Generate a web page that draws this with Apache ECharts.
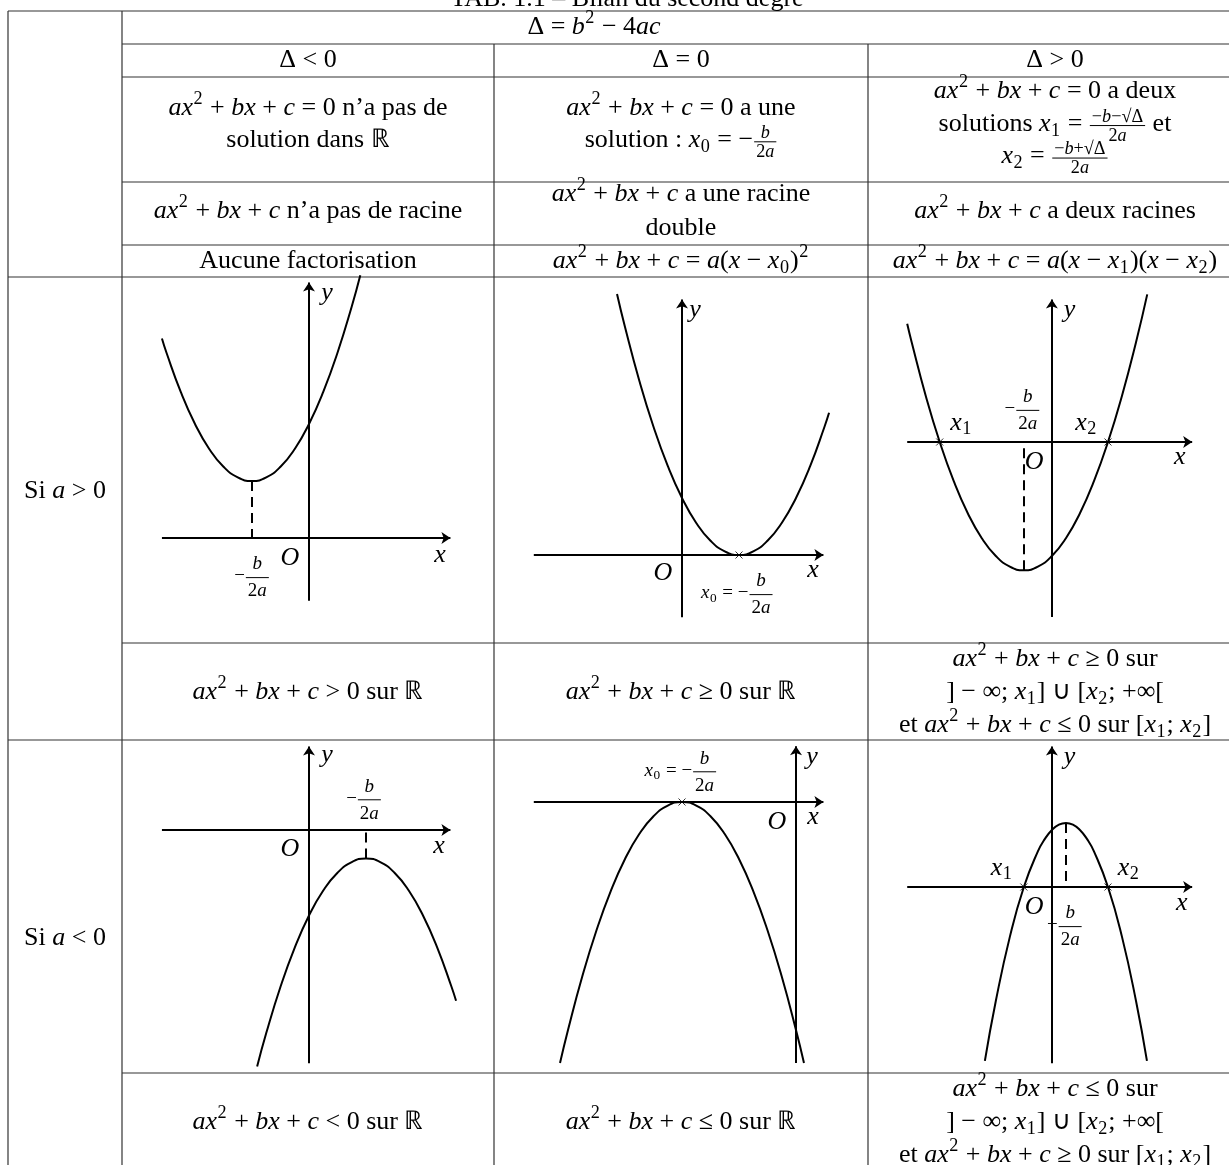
<!DOCTYPE html>
<html>
<head>
<meta charset="utf-8">
<script src="https://cdn.jsdelivr.net/npm/echarts@6.0.0/dist/echarts.min.js"></script>
<style>
html, body { margin: 0; padding: 0; background: #fff; }
#container { width: 1229px; height: 1165px; }
</style>
</head>
<body>
<div id="container"></div>
<script>
// police du tableau (Times-like)
var FONT = '"Liberation Serif", "Times New Roman", serif';
// px par unité dans les six petits repères
var U = 28.5;

// ---- les six paraboles : points (unités du repère)
// a > 0 : delta < 0, delta = 0, delta > 0
var curveA1 = [[-5.16, 7.0], [-5, 6.5], [-4.5, 5.125], [-4, 4], [-3.5, 3.125], [-3, 2.5], [-2.5, 2.125], [-2, 2], [-1.5, 2.125], [-1, 2.5], [-0.5, 3.125], [0, 4], [0.5, 5.125], [1, 6.5], [1.5, 8.125], [1.8, 9.22]];
var curveA2 = [[-2.28, 9.16], [-2, 8], [-1.5, 6.125], [-1, 4.5], [-0.5, 3.125], [0, 2], [0.5, 1.125], [1, 0.5], [1.5, 0.125], [2, 0], [2.5, 0.125], [3, 0.5], [3.5, 1.125], [4, 2], [4.5, 3.125], [5, 4.5], [5.16, 4.99]];
var curveA3 = [[-5.16, 4.15], [-5, 3.5], [-4.5, 1.625], [-4, 0], [-3.5, -1.375], [-3, -2.5], [-2.5, -3.375], [-2, -4], [-1.5, -4.375], [-1, -4.5], [-0.5, -4.375], [0, -4], [0.5, -3.375], [1, -2.5], [1.5, -1.375], [2, 0], [2.5, 1.625], [3, 3.5], [3.4, 5.18]];
// a < 0 : delta < 0, delta = 0, delta > 0
var curveB1 = [[-1.82, -8.3], [-1.5, -7.125], [-1, -5.5], [-0.5, -4.125], [0, -3], [0.5, -2.125], [1, -1.5], [1.5, -1.125], [2, -1], [2.5, -1.125], [3, -1.5], [3.5, -2.125], [4, -3], [4.5, -4.125], [5, -5.5], [5.16, -5.99]];
var curveB2 = [[-8.28, -9.16], [-8, -8], [-7.5, -6.125], [-7, -4.5], [-6.5, -3.125], [-6, -2], [-5.5, -1.125], [-5, -0.5], [-4.5, -0.125], [-4, 0], [-3.5, -0.125], [-3, -0.5], [-2.5, -1.125], [-2, -2], [-1.5, -3.125], [-1, -4.5], [-0.5, -6.125], [0, -8], [0.28, -9.16]];
var curveB3 = [[-2.39, -6.1], [-2, -4], [-1.5, -1.75], [-1, 0], [-0.5, 1.25], [-0.25, 1.6875], [0, 2], [0.25, 2.1875], [0.5, 2.25], [0.75, 2.1875], [1, 2], [1.25, 1.6875], [1.5, 1.25], [2, 0], [2.5, -1.75], [3, -4], [3.39, -6.1]];
var curves = [curveA1, curveA2, curveA3, curveB1, curveB2, curveB3];

// étendue des axes fléchés
var xAxisSpan = [[-5.16, 5.12], [-5.2, 5.12], [-5.16, 5.16], [-5.16, 5.12], [-9.2, 1.12], [-5.16, 5.16]];
var yAxisSpan = [[-2.2, 9.12], [-2.18, 9.12], [-6.14, 5.16], [-8.18, 3.09], [-9.16, 2.11], [-6.18, 5.09]];
// racines marquées d'une croix, sommet relié à l'axe en pointillé
var rootMarks = [[], [2], [-4, 2], [], [-4], [-1, 2]];
var vertexDash = [[-2, 2], null, [-1, -4.5], [2, -1], null, [0.5, 2.25]];

// ---- textes du tableau
var tableTitle = 'TAB. 1.1 – Bilan du second degré';
var headDelta = '$Δ = b^2 − 4ac$';
var deltaCases = ['$Δ < 0$', '$Δ = 0$', '$Δ > 0$'];
var solutionsText = [
    ['$ax^2 + bx + c = 0$ n’a pas de', 'solution dans ℝ'],
    ['$ax^2 + bx + c = 0$ a une', 'solution : $x_0 = −\\f{b}{2a}$'],
    ['$ax^2 + bx + c = 0$ a deux', 'solutions $x_1 = \\f{−b−√Δ}{2a}$ et', '$x_2 = \\f{−b+√Δ}{2a}$']
];
var rootsText = [
    ['$ax^2 + bx + c$ n’a pas de racine'],
    ['$ax^2 + bx + c$ a une racine', 'double'],
    ['$ax^2 + bx + c$ a deux racines']
];
var factorText = [
    ['Aucune factorisation'],
    ['$ax^2 + bx + c = a(x − x_0)^2$'],
    ['$ax^2 + bx + c = a(x − x_1)(x − x_2)$']
];
var signPosText = [
    ['$ax^2 + bx + c > 0$ sur ℝ'],
    ['$ax^2 + bx + c ≥ 0$ sur ℝ'],
    ['$ax^2 + bx + c ≥ 0$ sur', '$] − ∞; x_1] ∪ [x_2; +∞[$', 'et $ax^2 + bx + c ≤ 0$ sur $[x_1; x_2]$']
];
var signNegText = [
    ['$ax^2 + bx + c < 0$ sur ℝ'],
    ['$ax^2 + bx + c ≤ 0$ sur ℝ'],
    ['$ax^2 + bx + c ≤ 0$ sur', '$] − ∞; x_1] ∪ [x_2; +∞[$', 'et $ax^2 + bx + c ≥ 0$ sur $[x_1; x_2]$']
];
var caseNames = ['Si $a > 0$', 'Si $a < 0$'];

// ---- mise en page (px)
var cellBox = [[122, 277, 494, 643], [494, 277, 868, 643], [868, 277, 1229, 643],
               [122, 740, 494, 1073], [494, 740, 868, 1073], [868, 740, 1229, 1073]];
var originPx = [[309, 538], [682, 555], [1055, 442], [309, 830], [796, 802], [1055, 887]];
var colX = [65, 308, 681, 1055];
var hLines = [[11, 8, 1229], [44, 122, 1229], [77, 122, 1229], [182, 122, 1229], [245, 122, 1229],
              [277, 8, 1229], [643, 122, 1229], [740, 8, 1229], [1073, 122, 1229]];
var vLines = [[8, 11, 1165], [122, 11, 1165], [494, 44, 1165], [868, 44, 1165]];
// étiquettes des repères : [texte, x, y (unités), taille]
var graphLabels = [
    [['$y$', 0.63, 8.6], ['$x$', 4.6, -0.6], ['$O$', -0.67, -0.7], ['$−\\f{b}{2a}$', -2, -1.35, 's']],
    [['$y$', 0.46, 8.6], ['$x$', 4.6, -0.53], ['$O$', -0.67, -0.63], ['$x_0 = −\\f{b}{2a}$', 1.94, -1.35, 's']],
    [['$y$', 0.63, 4.63], ['$x$', 4.56, -0.53], ['$O$', -0.63, -0.7], ['$x_1$', -3.23, 0.67], ['$x_2$', 1.23, 0.67], ['$−\\f{b}{2a}$', -1.05, 1.15, 's']],
    [['$y$', 0.63, 2.63], ['$x$', 4.56, -0.56], ['$O$', -0.67, -0.67], ['$−\\f{b}{2a}$', 1.93, 1.1, 's']],
    [['$y$', 0.56, 1.58], ['$x$', 0.6, -0.53], ['$O$', -0.67, -0.7], ['$x_0 = −\\f{b}{2a}$', -4.04, 1.1, 's']],
    [['$y$', 0.63, 4.56], ['$x$', 4.63, -0.56], ['$O$', -0.63, -0.7], ['$x_1$', -1.79, 0.67], ['$x_2$', 2.74, 0.67], ['$−\\f{b}{2a}$', 0.46, -1.35, 's']]
];

var myChart = echarts.init(document.getElementById('container'));

// ---- petits repères : une grille par case, axes cachés
var grids = [], xAxes = [], yAxes = [], series = [];
cellBox.forEach(function (c, i) {
    var o = originPx[i], pad = 6;
    var l = c[0] - pad, t = c[1] - pad, r = c[2] + pad, b = c[3] + pad;
    grids.push({left: l, top: t, width: r - l, height: b - t});
    xAxes.push({gridIndex: i, type: 'value', show: false, min: (l - o[0]) / U, max: (r - o[0]) / U});
    yAxes.push({gridIndex: i, type: 'value', show: false, min: (o[1] - b) / U, max: (o[1] - t) / U});
    var tip = 4.5 / U;
    var ml = [
        [{coord: [xAxisSpan[i][0], 0]}, {coord: [xAxisSpan[i][1] - tip, 0]}],
        [{coord: [0, yAxisSpan[i][0]]}, {coord: [0, yAxisSpan[i][1] - tip]}]
    ];
    if (vertexDash[i]) {
        ml.push([{coord: vertexDash[i], symbol: 'none', lineStyle: {type: [10, 6]}},
                 {coord: [vertexDash[i][0], 0], symbol: 'none'}]);
    }
    series.push({
        type: 'line', xAxisIndex: i, yAxisIndex: i, data: curves[i],
        smooth: true, showSymbol: false, silent: true,
        lineStyle: {color: '#000', width: 2},
        markLine: {
            silent: true, symbol: ['none', 'arrow'], symbolSize: 9,
            label: {show: false},
            lineStyle: {color: '#000', width: 2, type: 'solid'},
            data: ml
        }
    });
    series.push({
        type: 'scatter', xAxisIndex: i, yAxisIndex: i, silent: true,
        symbol: 'path://M0,0L10,10M10,0L0,10', symbolSize: 7,
        itemStyle: {color: 'none', borderColor: '#000', borderWidth: 1},
        data: rootMarks[i].map(function (v) { return [v, 0]; })
    });
});

myChart.setOption({animation: false, grid: grids, xAxis: xAxes, yAxis: yAxes, series: series});

// ---- petit moteur de texte mathématique ($..$, ^, _, \f{num}{den})
var mctx = document.createElement('canvas').getContext('2d');
function fontOf(it, size) { return (it ? 'italic ' : '') + size.toFixed(1) + 'px ' + FONT; }
function textW(s, it, size) { mctx.font = fontOf(it, size); return mctx.measureText(s).width; }

function readGroup(s, i) {
    if (s.charAt(i) !== '{') return [s.charAt(i), i + 1];
    var depth = 0, j;
    for (j = i; j < s.length; j++) {
        if (s.charAt(j) === '{') depth++;
        else if (s.charAt(j) === '}') { depth--; if (depth === 0) break; }
    }
    return [s.slice(i + 1, j), j + 1];
}

function parseMath(s, size, math, fracScale) {
    var out = [], i = 0;
    while (i < s.length) {
        var c = s.charAt(i);
        if (c === '$') { math = !math; i++; continue; }
        if (math && (c === '^' || c === '_')) {
            var g = readGroup(s, i + 1); i = g[1];
            out.push({kind: 'script', up: c === '^', size: size, body: parseMath(g[0], size * 0.7, true, fracScale)});
            continue;
        }
        if (math && s.substr(i, 2) === '\\f') {
            var n = readGroup(s, i + 2), d = readGroup(s, n[1]); i = d[1];
            var fs = size * fracScale;
            out.push({kind: 'frac', size: size, sub: fs, inline: fracScale < 1,
                num: parseMath(n[0], fs, true, fracScale), den: parseMath(d[0], fs, true, fracScale)});
            continue;
        }
        var it = math && /[A-Za-z]/.test(c);
        var last = out[out.length - 1];
        if (last && last.kind === 'txt' && last.it === it) last.s += c;
        else out.push({kind: 'txt', s: c, it: it, size: size});
        i++;
    }
    return out;
}

function listW(list) { var w = 0; list.forEach(function (a) { w += atomW(a); }); return w; }
function atomW(a) {
    if (a.kind === 'txt') return textW(a.s, a.it, a.size);
    if (a.kind === 'script') return listW(a.body) + 1.5;
    return Math.max(listW(a.num), listW(a.den)) + 6;
}

function place(list, x, y, out) {
    list.forEach(function (a) {
        if (a.kind === 'txt') {
            out.push({type: 'text', silent: true, x: x, y: y,
                style: {text: a.s, font: fontOf(a.it, a.size), fill: '#000', align: 'left', verticalAlign: 'middle'}});
        } else if (a.kind === 'script') {
            place(a.body, x + 0.5, y + (a.up ? -0.34 : 0.26) * a.size, out);
        } else {
            var wn = listW(a.num), wd = listW(a.den), w = Math.max(wn, wd) + 4;
            var by = y + 0.06 * a.size;
            // fraction en ligne plus serrée que la fraction « display »
            var up = a.inline ? 0.45 * a.sub + 0.5 : 0.62 * a.sub + 1.5;
            var dn = a.inline ? 0.5 * a.sub + 1.5 : 0.62 * a.sub + 2;
            out.push({type: 'line', silent: true, shape: {x1: x + 1, y1: by, x2: x + 1 + w, y2: by},
                style: {stroke: '#000', lineWidth: 1}});
            place(a.num, x + 1 + (w - wn) / 2, by - up, out);
            place(a.den, x + 1 + (w - wd) / 2, by + dn, out);
        }
        x += atomW(a);
    });
}

function mathLine(str, cx, cy, size, fracScale, out) {
    var list = parseMath(str, size, false, fracScale);
    place(list, cx - listW(list) / 2, cy, out);
}

function block(lines, cx, cy, lh, out) {
    lines.forEach(function (str, k) {
        mathLine(str, cx, cy + (k - (lines.length - 1) / 2) * lh, 26, 0.7, out);
    });
}

var elements = [];

// traits du tableau
hLines.forEach(function (h) {
    elements.push({type: 'line', silent: true, shape: {x1: h[1], y1: h[0], x2: h[2], y2: h[0]},
        style: {stroke: '#333', lineWidth: 1.2}});
});
vLines.forEach(function (v) {
    elements.push({type: 'line', silent: true, shape: {x1: v[0], y1: v[1], x2: v[0], y2: v[2]},
        style: {stroke: '#333', lineWidth: 1.2}});
});

// textes
mathLine(tableTitle, 627, -1, 26, 0.7, elements);
mathLine(headDelta, 594, 27.5, 26, 0.7, elements);
for (var k = 0; k < 3; k++) {
    mathLine(deltaCases[k], colX[k + 1], 60.5, 26, 0.7, elements);
    block(solutionsText[k], colX[k + 1], 124, 32.5, elements);
    block(rootsText[k], colX[k + 1], 211, 33.5, elements);
    block(factorText[k], colX[k + 1], 261, 33, elements);
    block(signPosText[k], colX[k + 1], 692, 33, elements);
    block(signNegText[k], colX[k + 1], 1122, 33, elements);
}
mathLine(caseNames[0], colX[0], 491, 26, 0.7, elements);
mathLine(caseNames[1], colX[0], 938, 26, 0.7, elements);

// étiquettes des repères, placées via les axes
graphLabels.forEach(function (labels, i) {
    labels.forEach(function (lab) {
        var p = myChart.convertToPixel({gridIndex: i}, [lab[1], lab[2]]);
        var small = lab[3] === 's';
        mathLine(lab[0], p[0], p[1], small ? 19 : 26, 1, elements);
    });
});

myChart.setOption({graphic: {elements: elements}});

window.addEventListener('resize', function () {
    myChart.resize();
});
</script>
</body>
</html>
